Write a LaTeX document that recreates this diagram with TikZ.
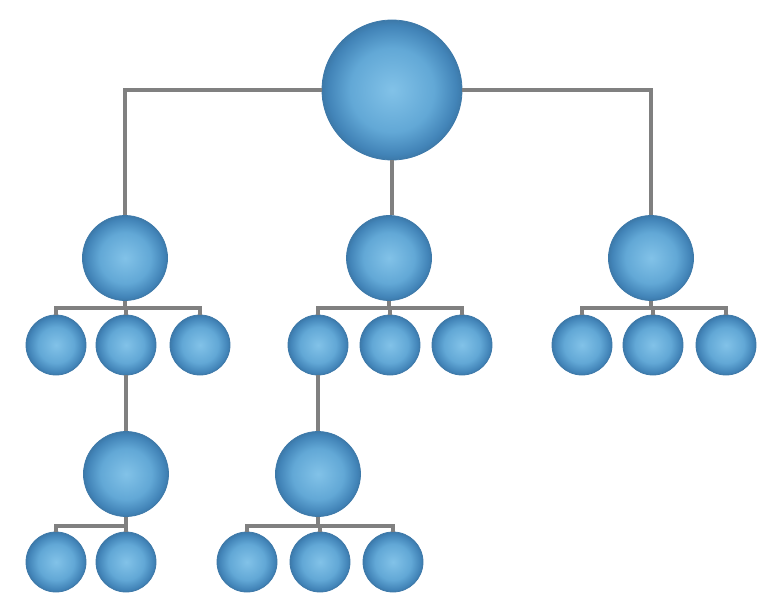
\documentclass[tikz,border=0pt]{standalone}
\usetikzlibrary{calc}

\definecolor{orblight}{RGB}{130,194,232}
\definecolor{orbmid}{RGB}{98,168,214}
\definecolor{orbdark}{RGB}{66,132,184}
\definecolor{stalk}{RGB}{128,128,128}

\pgfdeclareradialshading{orb}{\pgfpoint{0bp}{0bp}}{color(0bp)=(orblight); color(15bp)=(orbmid); color(23bp)=(orbdark); color(25bp)=(orbdark!92!black); color(50bp)=(orbdark!92!black)}

\tikzset{
  orb/.style={circle, shading=orb, draw=orbdark!92!black, line width=0.8pt, minimum size=#1, inner sep=0pt},
  big/.style={orb=140pt},
  mid/.style={orb=85pt},
  small/.style={orb=60pt},
  stem/.style={draw=stalk, line width=3.2pt}
}

\begin{document}
\begin{tikzpicture}[x=1pt,y=-1pt]
\useasboundingbox (0,0) rectangle (763,594);

% top
\node[big] (root) at (392,90) {};

% first row
\node[mid] (ua) at (125,258) {};
\node[mid] (ub) at (389,258) {};
\node[mid] (uc) at (651,258) {};

% second row
\node[small] (va) at (56,345) {};
\node[small] (vb) at (126,345) {};
\node[small] (vc) at (200,345) {};
\node[small] (vd) at (318,345) {};
\node[small] (ve) at (390,345) {};
\node[small] (vf) at (462,345) {};
\node[small] (vg) at (582,345) {};
\node[small] (vh) at (653,345) {};
\node[small] (vi) at (726,345) {};

% third row
\node[mid] (wa) at (126,474) {};
\node[mid] (wb) at (318,474) {};

% bottom row
\node[small] (xa) at (56,562) {};
\node[small] (xb) at (126,562) {};
\node[small] (xc) at (247,562) {};
\node[small] (xd) at (320,562) {};
\node[small] (xe) at (393,562) {};

% connectors
\draw[stem] (root) -| (ua);
\draw[stem] (root) -| (uc);
\draw[stem] (root) -- (root |- ub.north);

\foreach \c in {va,vb,vc}
  \draw[stem] (ua.south) -- ++(0,7) -| (\c.north);
\foreach \c in {vd,ve,vf}
  \draw[stem] (ub.south) -- ++(0,7) -| (\c.north);
\foreach \c in {vg,vh,vi}
  \draw[stem] (uc.south) -- ++(0,7) -| (\c.north);

\draw[stem] (vb) -- (wa);
\draw[stem] (vd) -- (wb);

\foreach \c in {xa,xb}
  \draw[stem] (wa.south) -- ++(0,9) -| (\c.north);
\foreach \c in {xc,xd,xe}
  \draw[stem] (wb.south) -- ++(0,9) -| (\c.north);
\end{tikzpicture}
\end{document}
